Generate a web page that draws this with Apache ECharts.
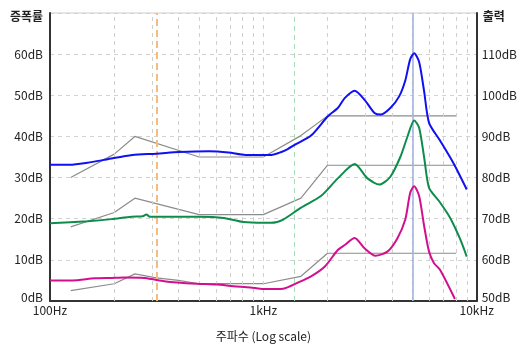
<!DOCTYPE html>
<html>
<head>
<meta charset="utf-8">
<script src="https://cdn.jsdelivr.net/npm/echarts@6/dist/echarts.min.js"></script>
<style>
  html, body { margin: 0; padding: 0; background: #fff; }
  #chart { width: 520px; height: 347px; }
</style>
</head>
<body>
<div id="chart"></div>
<script>
const FONT = '"Noto Sans CJK KR", "Noto Sans", sans-serif';

// Measured gain curves: frequency (Hz) and gain (dB)
const blueFreq = [100,124,150,184,243,315,402,555,687,825,1000,1090,1213,1307,1409,1673,2006,2233,2406,2679,2982,3319,3539,3938,4338,4627,4880,5093,5373,5668,5980,6730,7820,8980];
const blueGain = [33.1,33.1,33.6,34.4,35.5,35.8,36.2,36.4,36.1,35.5,35.5,35.5,36.2,37.0,38.0,40.2,44.9,46.9,49.3,51.1,48.9,45.7,45.3,46.9,49.8,53.6,58.8,60.2,58.1,51.0,43.3,39.0,33.3,27.1];

const greenFreq = [100,150,194,241,272,283,294,315,499,652,807,1000,1090,1239,1502,1861,2233,2679,3079,3502,3938,4385,4726,5093,5373,5668,5980,6658,7490,8340,8980];
const greenGain = [18.9,19.4,19.9,20.5,20.6,21.0,20.5,20.5,20.5,20.2,19.2,19.0,19.0,19.8,22.7,25.5,29.8,33.3,29.8,28.3,30.2,35.0,39.8,43.9,42.1,35.0,27.5,24.3,20.3,15.2,10.8];

const magentaFreq = [100,127,162,194,223,277,308,343,394,488,605,725,870,1000,1239,1455,1673,1943,2233,2406,2679,2982,3355,3814,4246,4627,4880,5093,5373,5668,5980,6310,6730,7905];
const magentaGain = [5.0,5.0,5.5,5.6,5.7,5.6,5.2,4.8,4.5,4.2,4.0,3.6,3.3,2.9,3.0,4.5,6.0,8.4,12.4,13.6,15.3,12.8,11.0,12.0,15.2,19.8,26.3,27.9,25.5,18.3,12.0,9.2,7.6,0.5];

// Target gain lines (piecewise linear)
const targetHighFreq = [125,200,250,500,1000,1500,2000,8000];
const targetHighGain = [30,35.7,40,35,35,40.2,45,45];
const targetMidFreq = [125,200,250,500,1000,1500,2000,8000];
const targetMidGain = [18,21.5,25,21,21,25,33,33];
const targetLowFreq = [125,200,250,315,400,500,1000,1500,2000,8000];
const targetLowGain = [2.5,4.2,6.6,5.6,5.0,4.2,4.2,6.0,11.6,11.6];

// Vertical reference frequencies
const markerFreq = [315, 1400, 5000];
const markerColor = ['#f7bd78', '#a9dcb6', '#9fb0e0'];
const markerType = [[7, 4], [5, 4], 'solid'];
const markerWidth = [2, 1, 1.5];

// Minor log grid frequencies
const gridFreq = [200,300,400,500,600,700,800,900,1000,2000,3000,4000,5000,6000,7000,8000,9000];

const xLabels = { 100: '100Hz', 1000: '1kHz', 10000: '10kHz' };

const zip = (xs, ys) => xs.map((x, i) => [x, ys[i]]);

const curve = (name, xs, ys, color) => ({
  name, type: 'line', data: zip(xs, ys), showSymbol: false, smooth: 0.25,
  lineStyle: { color, width: 2 }, z: 5, silent: true
});
const target = (name, xs, ys) => ({
  name, type: 'line', data: zip(xs, ys), showSymbol: false,
  lineStyle: { color: '#8c8c8c', width: 1.2 }, z: 3, silent: true
});

// The lowest tick label sits a little above the bottom edge
const dbLabel = (min) => (v) => (v === min ? '{lo|' + v + 'dB}' : v + 'dB');
const loRich = { lo: { fontFamily: FONT, fontSize: 12, color: '#222', padding: [0, 0, 7, 0] } };

const chart = echarts.init(document.getElementById('chart'), null, { renderer: 'canvas' });

chart.setOption({
  animation: false,
  backgroundColor: '#fff',
  textStyle: { fontFamily: FONT },
  grid: { left: 50, right: 40, top: 13, bottom: 40, show: true, borderColor: '#cfcfcf', borderWidth: 1 },
  xAxis: {
    type: 'log', logBase: 10, min: 100, max: 10000,
    name: '주파수 (Log scale)', nameLocation: 'middle', nameGap: 29,
    nameTextStyle: { fontFamily: FONT, fontSize: 12, color: '#222' },
    axisLine: { show: true, lineStyle: { color: '#333', width: 2 } },
    axisTick: { show: false },
    axisLabel: {
      fontFamily: FONT, fontSize: 12, color: '#222', margin: 3,
      formatter: v => xLabels[Math.round(v)] || ''
    },
    splitLine: { show: false },
    minorTick: { show: false }, minorSplitLine: { show: false }
  },
  yAxis: [
    {
      type: 'value', min: 0, max: 70, interval: 10, position: 'left',
      name: '증폭률', nameLocation: 'end', nameGap: -3,
      nameTextStyle: { fontFamily: FONT, fontSize: 12, fontWeight: 'bold', color: '#222', align: 'right', verticalAlign: 'middle', padding: [0, 7, 0, 0] },
      axisLine: { show: true, lineStyle: { color: '#333', width: 2 } },
      axisTick: { show: false },
      axisLabel: {
        fontFamily: FONT, fontSize: 12, color: '#222', margin: 7,
        showMaxLabel: false,
        formatter: dbLabel(0), rich: loRich
      },
      splitLine: { show: true, lineStyle: { color: '#d2d2d2', type: [4, 4], width: 1 } }
    },
    {
      type: 'value', min: 50, max: 120, interval: 10, position: 'right',
      name: '출력', nameLocation: 'end', nameGap: -3,
      nameTextStyle: { fontFamily: FONT, fontSize: 12, fontWeight: 'bold', color: '#222', align: 'left', verticalAlign: 'middle', padding: [0, 0, 0, 6] },
      axisLine: { show: true, lineStyle: { color: '#333', width: 2 } },
      axisTick: { show: false },
      axisLabel: {
        fontFamily: FONT, fontSize: 12, color: '#222', margin: 5,
        showMaxLabel: false,
        formatter: dbLabel(50), rich: loRich
      },
      splitLine: { show: false }
    }
  ],
  series: [
    {
      name: 'grid', type: 'line', data: [], silent: true, z: 1,
      markLine: {
        silent: true, symbol: 'none', label: { show: false },
        lineStyle: { color: '#cfcfcf', type: [4, 4], width: 1 },
        data: gridFreq.map(f => ({ xAxis: f }))
      }
    },
    {
      name: 'markers', type: 'line', data: [], silent: true, z: 2,
      markLine: {
        silent: true, symbol: 'none', label: { show: false },
        data: markerFreq.map((f, i) => ({
          xAxis: f,
          lineStyle: { color: markerColor[i], type: markerType[i], width: markerWidth[i] }
        }))
      }
    },
    target('targetHigh', targetHighFreq, targetHighGain),
    target('targetMid', targetMidFreq, targetMidGain),
    target('targetLow', targetLowFreq, targetLowGain),
    curve('blue', blueFreq, blueGain, '#1010f0'),
    curve('green', greenFreq, greenGain, '#0e8c4c'),
    curve('magenta', magentaFreq, magentaGain, '#d20f8e')
  ]
});
</script>
</body>
</html>
